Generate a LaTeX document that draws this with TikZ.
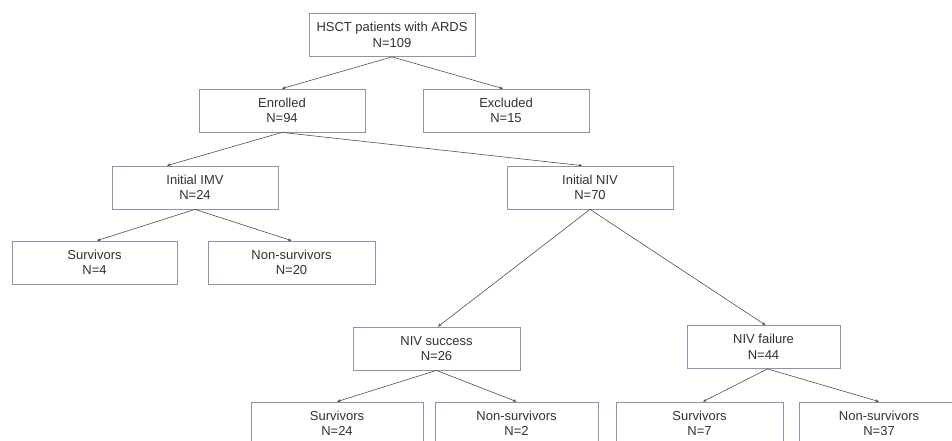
\documentclass[tikz,border=0pt]{standalone}
\usepackage{fontspec}
\setmainfont{Liberation Sans}
\usetikzlibrary{arrows.meta}
\definecolor{boxline}{RGB}{135,150,175}
\definecolor{txt}{RGB}{50,50,50}
\definecolor{conn}{RGB}{80,80,80}
\begin{document}
\begin{tikzpicture}[x=1pt,y=-1pt,
  box/.style={draw=boxline,line width=0.8pt,rectangle,minimum width=166pt,minimum height=43pt,
    inner sep=0pt,align=center,text=txt,font=\fontsize{13}{15.5}\selectfont},
  link/.style={draw=conn,line width=0.6pt,-{Stealth[length=3.5pt,width=3pt]}}]
\clip (0,0) rectangle (952,440);
\fill[white] (0,0) rectangle (952,440);
\node[box] (top) at (392,35) {HSCT patients with ARDS\\N=109};
\node[box] (enr) at (282,110.5) {Enrolled\\N=94};
\node[box] (exc) at (506,110.5) {Excluded\\N=15};
\node[box] (imv) at (195,187.5) {Initial IMV\\N=24};
\node[box] (niv) at (590,187.5) {Initial NIV\\N=70};
\node[box,minimum width=165pt] (s1) at (94.5,262.5) {Survivors\\N=4};
\node[box,minimum width=167pt] (n1) at (291.5,262.5) {Non-survivors\\N=20};
\node[box,minimum width=167pt] (nsucc) at (436.5,348.5) {NIV success\\N=26};
\node[box,minimum width=153pt] (nfail) at (763.5,347) {NIV failure\\N=44};
\node[box,minimum width=172pt] (s2) at (337,423.5) {Survivors\\N=24};
\node[box,minimum width=163pt] (n2) at (516.5,423.5) {Non-survivors\\N=2};
\node[box,minimum width=167pt] (s3) at (699.5,423.5) {Survivors\\N=7};
\node[box,minimum width=160pt] (n3) at (879,423.5) {Non-survivors\\N=37};
\draw[link] (top.south) -- (enr.north);
\draw[link] (top.south) -- ([xshift=-3pt]exc.north);
\draw[link] (enr.south) -- ([xshift=-28pt]imv.north);
\draw[link] (enr.south) -- ([xshift=-8pt]niv.north);
\draw[link] (imv.south) -- ([xshift=2.5pt]s1.north);
\draw[link] (imv.south) -- (n1.north);
\draw[link] (niv.south) -- ([xshift=1.5pt]nsucc.north);
\draw[link] (niv.south) -- ([xshift=2pt]nfail.north);
\draw[link] (nsucc.south) -- (s2.north);
\draw[link] (nsucc.south) -- (n2.north);
\draw[link] ([xshift=4pt]nfail.south) -- ([xshift=3.5pt]s3.north);
\draw[link] ([xshift=4pt]nfail.south) -- (n3.north);
\end{tikzpicture}
\end{document}
